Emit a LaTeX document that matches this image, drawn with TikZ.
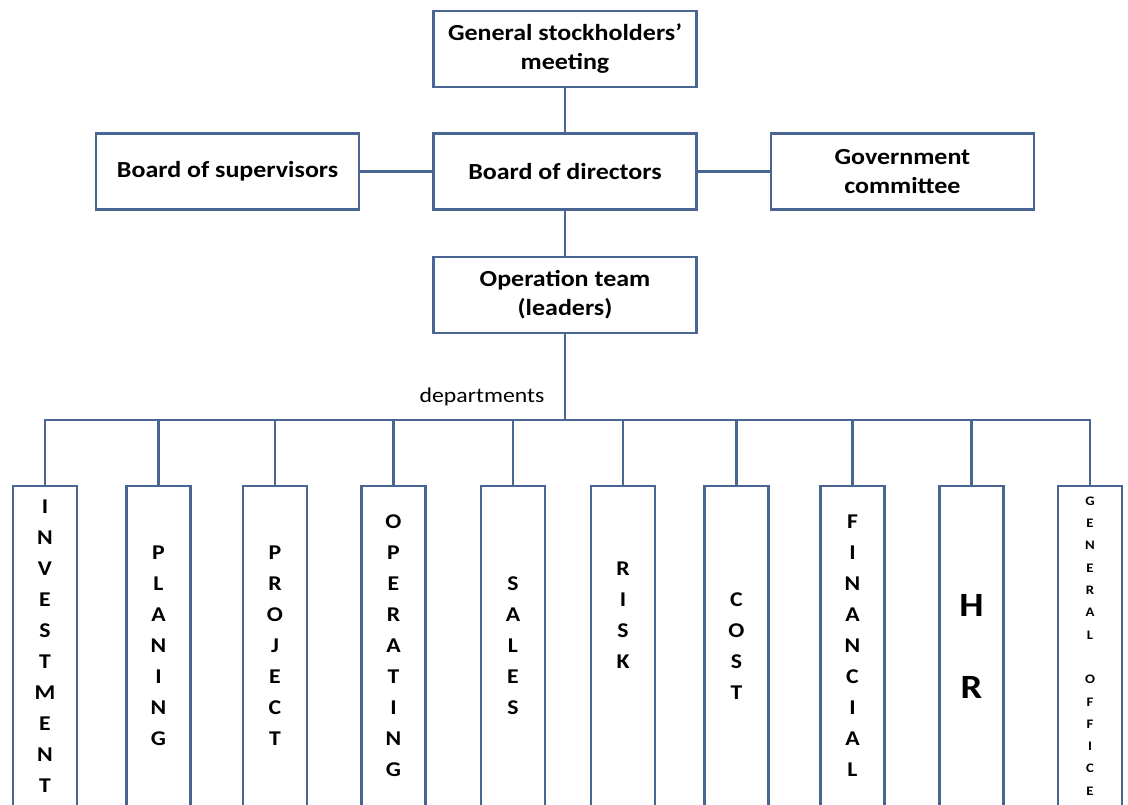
\documentclass[tikz,border=0pt]{standalone}
\usepackage{fontspec}
\setmainfont[FakeStretch=1.13]{Carlito}
\usepackage{tikz}
\usetikzlibrary{positioning}
\definecolor{boxline}{RGB}{72,102,145}
\tikzstyle{office} = [rectangle, draw=boxline, line width=2.4pt, minimum width=263pt, minimum height=76pt, text centered, align=center, font=\fontsize{23}{29}\selectfont\bfseries]
\tikzstyle{dept} = [rectangle, draw=boxline, line width=2.4pt, minimum width=64pt, minimum height=320pt, align=center, font=\fontsize{21}{31}\selectfont\bfseries]
\tikzstyle{line} = [draw=boxline, line width=2.4pt]

\begin{document}
\begin{tikzpicture}[x=1pt, y=-1pt]
	\useasboundingbox (0,0) rectangle (1128,804);
	\clip (0,0) rectangle (1128,804);
	% Place nodes
	\node [office] (meeting) at (565,49) {General stockholders'\\meeting};
	\node [office, below=44pt of meeting] (directors) {Board of directors};
	\node [office, left=72pt of directors] (supervisors) {Board of supervisors};
	\node [office, right=72pt of directors] (committee) {Government\\committee};
	\node [office, below=45pt of directors] (opteam) {Operation team\\(leaders)};
	\coordinate (bus) at (565,420);
	\node [font=\fontsize{21}{25}\selectfont] (deptlabel) at (482,397) {departments};
	% Departments
	\node [dept] (invest) at (45,646) {I\\N\\V\\E\\S\\T\\M\\E\\N\\T};
	\node [dept] (planing) at (158.5,646) {P\\L\\A\\N\\I\\N\\G};
	\node [dept] (project) at (275,646) {P\\R\\O\\J\\E\\C\\T};
	\node [dept] (operating) at (393.5,646) {O\\P\\E\\R\\A\\T\\I\\N\\G};
	\node [dept] (sales) at (513,646) {S\\A\\L\\E\\S};
	\node [dept] (risk) at (623,646) {R\\I\\S\\K\\[31pt]};
	\node [dept] (cost) at (736.5,646) {C\\O\\S\\T};
	\node [dept] (financial) at (852.5,646) {F\\I\\N\\A\\N\\C\\I\\A\\L};
	\node [dept, font=\fontsize{34}{82}\selectfont\bfseries] (hr) at (971.5,646) {H\\R};
	\node [dept, font=\fontsize{13}{22.3}\selectfont\bfseries] (genoffice) at (1090,646) {G\\E\\N\\E\\R\\A\\L\\[22.3pt]O\\F\\F\\I\\C\\E};
	% Draw edges
	\path [line] (meeting) -- (directors);
	\path [line] (supervisors) -- (directors);
	\path [line] (directors) -- (committee);
	\path [line] (directors) -- (opteam);
	\path [line] (opteam) -- (bus);
	\foreach \d in {invest,planing,project,operating,sales,risk,cost,financial,hr,genoffice}
		\path [line] (bus) -| (\d.north);
\end{tikzpicture}
\end{document}
